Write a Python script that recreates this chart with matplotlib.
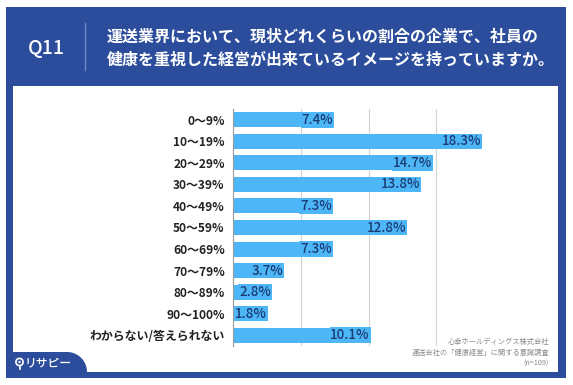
import numpy as np
import matplotlib.pyplot as plt
from matplotlib.patches import Rectangle, Polygon, Circle

plt.rcParams['font.family'] = ['Noto Sans CJK JP', 'DejaVu Sans']

categories = ['0～9%', '10～19%', '20～29%', '30～39%', '40～49%', '50～59%',
              '60～69%', '70～79%', '80～89%', '90～100%', 'わからない/答えられない']
values = [7.4, 18.3, 14.7, 13.8, 7.3, 12.8, 7.3, 3.7, 2.8, 1.8, 10.1]
grid_ticks = [5, 10, 15, 20]

title_q = 'Q11'
title_lines = ['運送業界において、現状どれくらいの割合の企業で、社員の',
               '健康を重視した経営が出来ているイメージを持っていますか。']
source_lines = ['心幸ホールディングス株式会社',
                '運送会社の「健康経営」に関する意識調査']
sample = '(n=109)'

BLUE = '#2C4D9C'
BAR = '#4DB6F7'
LABEL = '#1B3A73'

W, H = 573, 385
fig = plt.figure(figsize=(W / 100, H / 100), dpi=100)

# background frame drawn in pixel coordinates
bg = fig.add_axes([0, 0, 1, 1], zorder=0)
bg.set_xlim(0, W)
bg.set_ylim(H, 0)
bg.axis('off')
bg.add_patch(Rectangle((6, 7), 560, 371, color=BLUE, lw=0))
bg.add_patch(Rectangle((13, 86), 545, 286, color='white', lw=0))

# logo tab bottom-left
ang = np.linspace(np.pi / 2, 0, 20)
arc = np.column_stack([67 + 20 * np.cos(ang), 372 - 20 * np.sin(ang)])
tab = np.vstack([[13, 372], [13, 352], arc, [87, 372]])
bg.add_patch(Polygon(tab, closed=True, color=BLUE, lw=0))
bg.add_patch(Circle((19.5, 362), 3.6, fill=False, ec='white', lw=1.2))
bg.add_patch(Circle((19.5, 362), 1.2, color='white', lw=0))
bg.plot([19.5, 19.5], [365.5, 369], color='white', lw=1.2)
bg.text(25, 363, 'リサピー', color='white', fontsize=8.5, fontweight='medium',
        va='center', ha='left')

# header
bg.text(46, 48, title_q, color='white', fontsize=14, fontweight='medium',
        ha='center', va='center')
bg.plot([85, 85], [23, 70], color='#6F86C0', lw=1)
bg.text(107, 37, title_lines[0], color='white', fontsize=11.5, fontweight='bold',
        ha='left', va='center')
bg.text(107, 60, title_lines[1], color='white', fontsize=11.5, fontweight='bold',
        ha='left', va='center')

# source note
bg.text(549, 342, source_lines[0], color='#8A8A8A', fontsize=5.2, ha='right', va='center')
bg.text(549, 353, source_lines[1], color='#8A8A8A', fontsize=5.2, ha='right', va='center')
bg.text(549, 364, sample, color='#8A8A8A', fontsize=5.2, ha='right', va='center')

# chart
x0, x1, y0, y1 = 233, 504, 109, 346
ax = fig.add_axes([x0 / W, 1 - y1 / H, (x1 - x0) / W, (y1 - y0) / H], zorder=1)
ax.set_facecolor('none')
y = np.arange(len(categories))
ax.barh(y, values, height=0.7, color=BAR, zorder=2)
ax.set_xlim(0, 20)
ax.set_ylim(len(categories) - 0.5, -0.5)
for g in grid_ticks:
    ax.axvline(g, color='#D3D3D3', lw=0.8, zorder=1)
ax.set_xticks([])
ax.set_yticks(y)
ax.set_yticklabels(categories, fontsize=8.6, fontweight='bold', color='#222222')
ax.tick_params(axis='y', length=0, pad=6)
for s in ['top', 'right', 'bottom']:
    ax.spines[s].set_visible(False)
ax.spines['left'].set_color('#9A9A9A')
ax.spines['left'].set_linewidth(0.8)
ax.spines['left'].set_zorder(3)

for yi, v in zip(y, values):
    ax.text(max(v, 2.5), yi, f'{v}%', ha='right', va='center', fontsize=9.6,
            fontweight='medium', color=LABEL, zorder=4,
            bbox=dict(facecolor=BAR, edgecolor='none', pad=0.6))

fig.savefig('out.png', dpi=100)
